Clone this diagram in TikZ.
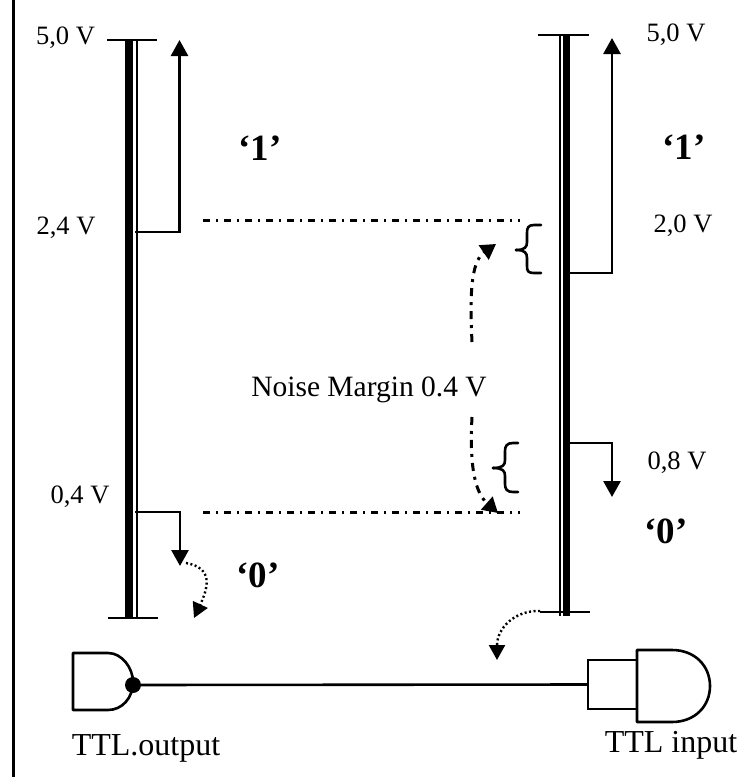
\documentclass[tikz,border=0pt]{standalone}
\usepackage{fontspec}
\setmainfont{Liberation Serif}
\usetikzlibrary{arrows.meta,calc}
\tikzset{
  lab/.style={inner sep=0pt,font=\fontsize{26.5}{28}\selectfont},
  big/.style={inner sep=0pt,font=\fontsize{32}{34}\selectfont},
  digit/.style={inner sep=0pt,font=\fontsize{37}{40}\selectfont\bfseries},
  ln/.style={line width=2.6pt},
  tick/.style={line width=2.4pt},
  arr/.style={line width=2.8pt,-{Triangle[length=16pt,width=17pt]}},
  dots/.style={line width=2.4pt,dash pattern=on 2pt off 2.5pt,-{Triangle[length=15pt,width=16pt]}},
  dd/.style={line width=3pt,dash pattern=on 7pt off 6pt on 2pt off 6pt},
  dda/.style={line width=3pt,dash pattern=on 8pt off 6pt on 3pt off 6pt,-{Triangle[length=15pt,width=17pt]}},
  brc/.style={line width=2.6pt,line cap=round},
}
\begin{document}
\begin{tikzpicture}[x=1pt,y=-1pt]
\useasboundingbox (0,0) rectangle (748,779);
% border
\coordinate (bt) at (13,0); \coordinate (bb) at (13,777);
\draw[line width=3pt] (bt) -- (bb);
% left rail
\coordinate (lt) at (129,40); \coordinate (lb) at (129,618);
\coordinate (lt2) at (136.5,40); \coordinate (lb2) at (136.5,618);
\draw[line width=8pt] (lt) -- (lb);
\draw[line width=2pt] (lt2) -- (lb2);
\coordinate (ltl) at (107,40); \coordinate (ltr) at (157,40);
\coordinate (lbl) at (108,618); \coordinate (lbr) at (158,618);
\draw[tick] (ltl) -- (ltr);
\draw[tick] (lbl) -- (lbr);
% right rail
\coordinate (rt) at (566.5,35); \coordinate (rb) at (566.5,616);
\coordinate (rt2) at (559.5,35); \coordinate (rb2) at (559.5,616);
\draw[line width=7.5pt] (rt) -- (rb);
\draw[line width=2pt] (rt2) -- (rb2);
\coordinate (rtl) at (538,35); \coordinate (rtr) at (589,35);
\coordinate (rbl) at (540,612); \coordinate (rbr) at (590,612);
\draw[tick] (rtl) -- (rtr);
\draw[tick] (rbl) -- (rbr);
% level arrows
\coordinate (a1) at (135,232); \coordinate (a1c) at (179.5,232); \coordinate (a1e) at (179.5,40);
\draw[arr] (a1) -- (a1c) -- (a1e);
\coordinate (a2) at (135,512); \coordinate (a2c) at (180,512); \coordinate (a2e) at (180,566);
\draw[arr] (a2) -- (a2c) -- (a2e);
\coordinate (a3) at (570,273); \coordinate (a3c) at (612,273); \coordinate (a3e) at (612,38);
\draw[arr] (a3) -- (a3c) -- (a3e);
\coordinate (a4) at (570,443); \coordinate (a4c) at (612,443); \coordinate (a4e) at (612,497);
\draw[arr] (a4) -- (a4c) -- (a4e);
% dotted curves
\coordinate (d1) at (186,563); \coordinate (d1e) at (194,618);
\draw[dots] (d1) .. controls (214,568) and (208,588) .. (d1e);
\coordinate (d2) at (540,611); \coordinate (d2e) at (497,660);
\draw[dots] (d2) .. controls (515,610) and (497,628) .. (d2e);
% noise margin lines
\coordinate (n1) at (203,220); \coordinate (n1e) at (520,220);
\coordinate (n2) at (203,512); \coordinate (n2e) at (520,512);
\draw[dd] (n1) -- (n1e);
\draw[dd] (n2) -- (n2e);
\node[inner sep=0pt,font=\fontsize{29.5}{31}\selectfont] (noise) at (369,390) {Noise Margin 0.4 V};
\coordinate (u1) at (472,342); \coordinate (u1e) at (496,244);
\draw[dda] (u1) .. controls (470,300) and (470,262) .. (u1e);
\coordinate (u2) at (472,417); \coordinate (u2e) at (498,513);
\draw[dda] (u2) .. controls (470,455) and (472,490) .. (u2e);
% braces
\coordinate (b1a) at (541,225); \coordinate (b1m) at (516,250); \coordinate (b1b) at (541,273);
\draw[brc] (b1a) -- (534,225) .. controls (528,225) and (527,228) .. (527,233)
  -- (527,242) .. controls (527,247) and (525,250) .. (b1m);
\draw[brc] (b1m) .. controls (525,250) and (527,253) .. (527,258)
  -- (527,266) .. controls (527,271) and (528,273) .. (534,273) -- (b1b);
\coordinate (b2a) at (518,443); \coordinate (b2m) at (493,468); \coordinate (b2b) at (518,492);
\draw[brc] (b2a) -- (513,443) .. controls (507,443) and (505,446) .. (505,451)
  -- (505,460) .. controls (505,465) and (503,468) .. (b2m);
\draw[brc] (b2m) .. controls (503,468) and (505,471) .. (505,476)
  -- (505,484) .. controls (505,489) and (507,492) .. (513,492) -- (b2b);
% gates
\coordinate (g1) at (73,653); \coordinate (g1b) at (73,710);
\draw[ln,line join=round] (g1) -- (108,653) .. controls (122,653) and (133,668) .. (133,682)
  .. controls (133,698) and (122,710) .. (108,710) -- (g1b) -- cycle;
\node[circle,fill=black,minimum size=16pt,inner sep=0pt] (bub) at (133,685) {};
\node[draw,line width=2.6pt,minimum width=49pt,minimum height=49pt,inner sep=0pt,outer sep=0pt] (box) at (612.5,684.5) {};
\draw[ln] (bub) -- (box.west);
\coordinate (g2) at (637,650); \coordinate (g2b) at (637,722);
\draw[ln,line join=round,fill=white] (g2) -- (672,650) .. controls (695,650) and (710,666) .. (710,686)
  .. controls (710,706) and (695,722) .. (672,722) -- (g2b) -- cycle;
% labels
\node[lab] (t1) at (65.5,38) {5,0 V};
\node[lab] (t2) at (66,228) {2,4 V};
\node[lab] (t3) at (80,497) {0,4 V};
\node[lab] (t4) at (676,35) {5,0 V};
\node[lab] (t5) at (683,226) {2,0 V};
\node[lab] (t6) at (677,463) {0,8 V};
\node[digit] (o1) at (260,148) {‘1’};
\node[digit] (o2) at (684,147) {‘1’};
\node[digit] (z1) at (258,575) {‘0’};
\node[digit] (z2) at (666,531) {‘0’};
\node[big] (tout) at (146,748) {TTL.output};
\node[big] (tin) at (671,745) {TTL input};
\end{tikzpicture}
\end{document}
